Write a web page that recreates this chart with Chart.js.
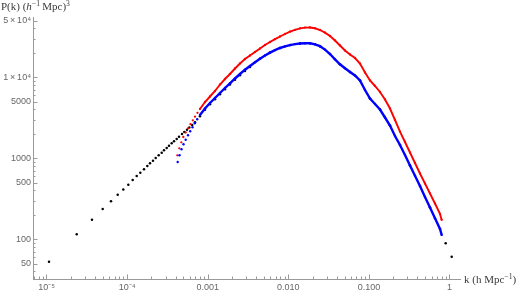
<!DOCTYPE html>
<html>
<head>
<meta charset="utf-8">
<script src="https://cdn.jsdelivr.net/npm/chart.js@4.4.1/dist/chart.umd.min.js"></script>
<style>
    html, body { margin: 0; padding: 0; background: #fff; }
    #wrap { width: 519px; height: 292px; }
</style>
</head>
<body>
<div id="wrap"><canvas id="myChart"></canvas></div>
<script>
// linear spectrum (black dots), k in h/Mpc
const kBlack = [1.074e-5, 2.370e-5, 3.667e-5, 4.981e-5, 6.313e-5, 7.645e-5, 8.973e-5, 1.035e-4,
    1.174e-4, 1.315e-4, 1.458e-4, 1.621e-4, 1.780e-4, 1.923e-4, 2.096e-4, 2.263e-4, 2.466e-4,
    2.687e-4, 2.869e-4, 3.099e-4, 3.310e-4, 3.575e-4, 3.819e-4, 4.124e-4, 4.404e-4, 4.798e-4,
    5.124e-4, 5.535e-4, 5.910e-4, 6.423e-4, 6.956e-4, 8.02e-4, 9.26e-4, 1.068e-3, 1.232e-3,
    1.421e-3, 1.639e-3, 1.891e-3, 2.181e-3, 2.516e-3, 2.902e-3, 3.348e-3, 4.456e-3, 5.929e-3,
    7.889e-3, 1.050e-2, 1.397e-2, 1.859e-2, 2.474e-2, 3.291e-2, 4.379e-2, 5.828e-2, 7.754e-2,
    0.1032, 0.1373, 0.1827, 0.2431, 0.3235, 0.4304, 0.5728, 0.7623, 0.8972, 1.065];
const pBlack = [52.75, 115.0, 174.1, 235.9, 293.7, 354.3, 410.8, 469.5,
    538.2, 602.9, 662.2, 729.4, 801.1, 865.0, 931.3, 1006, 1086,
    1169, 1252, 1336, 1427, 1528, 1617, 1726, 1843, 1990,
    2106, 2249, 2393, 2570, 2775, 3300, 3970, 4642, 5350,
    6168, 7110, 8127, 9314, 10585, 11960, 13360, 16924, 20128,
    22935, 24910, 26060, 26210, 24140, 19340, 14430, 11590, 9106,
    5458, 3993, 2533, 1455, 813, 454, 246, 134, 89.0, 60.8];

// low-k start of the red and blue spectra
const kRedStart = [4.195e-4, 4.442e-4, 4.704e-4, 4.981e-4, 5.333e-4, 5.696e-4, 6.119e-4, 6.534e-4, 6.956e-4, 7.472e-4];
const pRedStart = [1086, 1325, 1572, 1827, 2076, 2339, 2629, 2937, 3253, 3635];
const kBlueStart = [4.244e-4, 4.468e-4, 4.730e-4, 5.010e-4, 5.333e-4, 5.696e-4, 6.067e-4, 6.478e-4, 6.918e-4, 7.409e-4];
const pBlueStart = [898, 1086, 1288, 1484, 1692, 1917, 2148, 2407, 2697, 3021];

// shared k grid for the rest of both curves
const kGrid = [8.02e-4, 9.26e-4, 1.068e-3, 1.232e-3, 1.421e-3, 1.639e-3, 1.891e-3, 2.181e-3, 2.516e-3, 2.902e-3,
    3.348e-3, 3.862e-3, 4.456e-3, 5.139e-3, 5.929e-3, 6.839e-3, 7.889e-3, 9.099e-3, 1.050e-2, 1.211e-2,
    1.397e-2, 1.612e-2, 1.859e-2, 2.144e-2, 2.474e-2, 2.853e-2, 3.291e-2, 3.797e-2, 4.379e-2, 5.050e-2,
    5.828e-2, 6.722e-2, 7.754e-2, 8.946e-2, 0.1032, 0.1190, 0.1373, 0.1584, 0.1827, 0.2108,
    0.2431, 0.2804, 0.3235, 0.3731, 0.4304, 0.4966, 0.5728, 0.6607, 0.7623, 0.800];
const pRed = [4049, 4941, 5777, 6755, 8126, 9501, 10955, 12808, 14765, 16781,
    18531, 20474, 22613, 24980, 27210, 29450, 31800, 34150, 36450, 38470,
    40040, 40960, 41080, 40150, 38250, 35520, 32260, 28390, 24630, 21370,
    19060, 17260, 14765, 11430, 9106, 7789, 6566, 5305, 4107, 2962,
    2124, 1585, 1176, 872, 647, 487, 367, 276, 205, 173];
const pBlue = [3414, 4108, 4803, 5537, 6381, 7356, 8409, 9638, 10955, 12377,
    13750, 15276, 16924, 18531, 20128, 21610, 22935, 24000, 24910, 25630,
    26060, 26290, 26210, 25480, 24140, 21910, 19340, 16630, 14430, 12880,
    11590, 10495, 9106, 6950, 5458, 4668, 3993, 3180, 2533, 1879,
    1455, 1095, 813, 608, 454, 332, 246, 181, 134, 113];

// labelled ticks
const xMajor = [1e-5, 1e-4, 1e-3, 1e-2, 0.1, 1];
const xLabels = ['10\u207B\u2075', '10\u207B\u2074', '0.001', '0.010', '0.100', '1'];
const yMajor = [50, 100, 500, 1000, 5000, 10000, 50000];
const yLabels = ['50', '100', '500', '1000', '5000', '1\u2009\u00D7\u200910\u2074', '5\u2009\u00D7\u200910\u2074'];

const axisColor = '#9a9a9a';
const labelColor = '#666666';
const titleColor = '#3a3a3a';
const kSplit = 8.1e-4; // below this the curves are separate dots

function toPoints(ks, ps) {
    return ks.map((k, i) => ({ x: k, y: ps[i] }));
}

function findMajor(list, v) {
    for (let i = 0; i < list.length; i++) {
        if (Math.abs(v / list[i] - 1) < 1e-6) return i;
    }
    return -1;
}

// 1..9 x 10^n ticks between min and max
function logTicks(min, max, majors) {
    let ticks = [];
    for (let e = Math.floor(Math.log10(min)); e <= Math.ceil(Math.log10(max)); e++) {
        for (let m = 1; m <= 9; m++) {
            const v = m * Math.pow(10, e);
            if (v < min || v > max) continue;
            const mj = findMajor(majors, v) >= 0;
            ticks.push({ value: v, major: mj, mj: mj });
        }
    }
    return ticks;
}

function drawRich(ctx, parts, x, y, size) {
    parts.forEach(p => {
        const s = p.sup ? size * 0.7 : size;
        ctx.font = (p.it ? 'italic ' : '') + s + 'px "Liberation Serif", "Times New Roman", serif';
        ctx.fillText(p.t, x, p.sup ? y - size * 0.4 : y);
        x += ctx.measureText(p.t).width;
    });
}

// inward tick marks and the two axis titles
const axisDecor = {
    id: 'axisDecor',
    afterDraw(chart) {
        const ctx = chart.ctx;
        const area = chart.chartArea;
        const xs = chart.scales.x;
        const ys = chart.scales.y;
        ctx.save();
        ctx.strokeStyle = axisColor;
        ctx.lineWidth = 1;
        xs.ticks.forEach(t => {
            const px = Math.round(xs.getPixelForValue(t.value)) + 0.5;
            const len = t.mj ? 4.5 : 2.5;
            ctx.beginPath();
            ctx.moveTo(px, area.bottom);
            ctx.lineTo(px, area.bottom - len);
            ctx.stroke();
        });
        ys.ticks.forEach(t => {
            const py = Math.round(ys.getPixelForValue(t.value)) + 0.5;
            const len = t.mj ? 4.5 : 2.5;
            ctx.beginPath();
            ctx.moveTo(area.left, py);
            ctx.lineTo(area.left + len, py);
            ctx.stroke();
        });

        ctx.fillStyle = titleColor;
        ctx.textAlign = 'left';
        ctx.textBaseline = 'alphabetic';
        drawRich(ctx, [
            { t: 'P(k) (' }, { t: 'h', it: true }, { t: '\u22121', sup: true }, { t: '\u2009Mpc)' }, { t: '3', sup: true }
        ], 1, 10, 11);
        drawRich(ctx, [
            { t: 'k (h Mpc' }, { t: '\u22121', sup: true }, { t: ')' }
        ], area.right + 4, area.bottom + 4, 11);
        ctx.restore();
    }
};

const tickFont = { family: '"Liberation Sans", Arial, sans-serif', size: 9 };

const data = {
    datasets: [
        {
            label: 'red',
            data: toPoints(kRedStart.concat(kGrid), pRedStart.concat(pRed)),
            showLine: true,
            borderColor: '#ff0000',
            borderWidth: 1.9,
            pointRadius: 1.15,
            pointBorderWidth: 0,
            pointBackgroundColor: '#ff0000',
            segment: {
                borderColor: ctx => ctx.p1.parsed.x <= kSplit ? 'transparent' : undefined
            },
            order: 2
        },
        {
            label: 'blue',
            data: toPoints(kBlueStart.concat(kGrid), pBlueStart.concat(pBlue)),
            showLine: true,
            borderColor: '#0000ff',
            borderWidth: 2.4,
            pointRadius: 1.2,
            pointBorderWidth: 0,
            pointBackgroundColor: '#0000ff',
            segment: {
                borderColor: ctx => ctx.p1.parsed.x <= kSplit ? 'transparent' : undefined
            },
            order: 1
        },
        {
            label: 'linear',
            data: toPoints(kBlack, pBlack),
            showLine: false,
            pointRadius: 1.25,
            pointBorderWidth: 0,
            pointBackgroundColor: '#000000',
            order: 3
        }
    ]
};

const config = {
    type: 'scatter',
    data: data,
    options: {
        responsive: true,
        maintainAspectRatio: false,
        animation: false,
        events: [],
        layout: { padding: { left: 0, right: 59, top: 17, bottom: 0 } },
        plugins: { legend: { display: false }, tooltip: { enabled: false } },
        scales: {
            x: {
                type: 'logarithmic',
                min: 6.8e-6,
                max: 1.35,
                border: { display: true, color: axisColor, width: 1 },
                grid: { display: false, drawTicks: false },
                ticks: {
                    autoSkip: false,
                    maxRotation: 0,
                    padding: 3,
                    color: labelColor,
                    font: tickFont,
                    callback: function (value) {
                        const i = findMajor(xMajor, value);
                        return i >= 0 ? xLabels[i] : '';
                    }
                },
                afterBuildTicks: function (scale) {
                    scale.ticks = logTicks(scale.min, scale.max, xMajor);
                },
                afterFit: function (scale) {
                    scale.height = 13;
                }
            },
            y: {
                type: 'logarithmic',
                min: 32.25,
                max: 55360,
                border: { display: true, color: axisColor, width: 1 },
                grid: { display: false, drawTicks: false },
                ticks: {
                    autoSkip: false,
                    padding: 2,
                    color: labelColor,
                    font: tickFont,
                    callback: function (value) {
                        const i = findMajor(yMajor, value);
                        return i >= 0 ? yLabels[i] : '';
                    }
                },
                afterBuildTicks: function (scale) {
                    scale.ticks = logTicks(scale.min, scale.max, yMajor);
                },
                afterFit: function (scale) {
                    scale.width = 33;
                }
            }
        }
    },
    plugins: [axisDecor]
};

const myChart = new Chart(document.getElementById('myChart'), config);
</script>
</body>
</html>
